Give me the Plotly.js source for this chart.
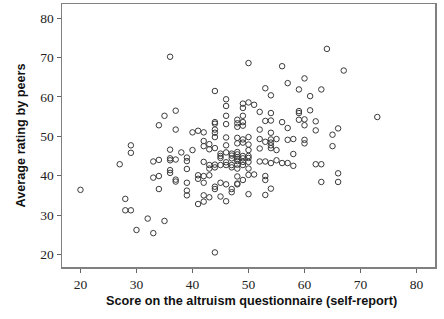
<!DOCTYPE html>
<html>
<head>
<meta charset="utf-8">
<script src="https://cdn.plot.ly/plotly-3.0.1.min.js"></script>
<style>html,body{margin:0;padding:0;background:#fff;}#chart{width:444px;height:319px;}</style>
</head>
<body>
<div id="chart"></div>
<script>
// Altruism self-report score (x) and average peer rating (y), grouped by x value
const scoreGroups = [20,27,28,29,30,32,33,34,35,36,37,38,39,40,41,42,43,44,45,46,47,48,49,50,51,52,53,54,55,56,57,58,59,60,61,62,63,64,65,66,67,73];
const peerRatings = [
  [36.4],
  [42.9],
  [34.1, 31.2],
  [31.2, 47.7, 45.8],
  [26.2],
  [29.1],
  [25.4, 39.5, 43.6],
  [52.8, 39.9, 36.6, 44.0],
  [55.2, 28.5],
  [70.2, 46.6, 44.4, 43.9, 41.4, 40.7],
  [56.5, 51.7, 44.1, 39.0, 38.5],
  [45.9],
  [44.6, 43.7, 41.7, 38.2, 36.2, 35.0],
  [51.0, 46.5],
  [51.4, 40.1, 39.2, 32.8],
  [51.0, 48.8, 47.5, 43.5, 39.9, 38.2, 35.0, 33.4],
  [48.0, 46.7, 42.7, 41.8, 40.1, 34.5],
  [61.5, 53.6, 53.2, 51.7, 50.9, 49.8, 47.0, 42.8, 42.1, 37.2, 36.6, 20.5],
  [45.6, 45.0, 44.5, 42.7, 38.2, 34.7],
  [59.4, 57.7, 55.2, 53.1, 49.7, 47.7, 45.9, 43.4, 42.7, 37.8, 33.5],
  [45.6, 45.1, 44.4, 42.7, 42.1, 36.6, 35.8],
  [54.2, 53.3, 52.4, 49.6, 48.2, 46.0, 45.4, 44.7, 44.2, 43.7, 42.8, 41.8, 39.8, 38.0, 37.8],
  [58.3, 57.2, 55.2, 53.6, 52.7, 49.2, 48.4, 45.0, 44.4, 43.5, 42.7, 38.9],
  [68.6, 58.6, 49.8, 47.9, 46.5, 45.0, 44.5, 43.5, 41.8, 40.2, 35.3],
  [58.0, 40.3],
  [56.2, 51.7, 49.3, 46.9, 43.6],
  [62.2, 53.9, 48.6, 43.6, 39.9, 38.9, 35.1],
  [60.4, 55.9, 54.0, 50.9, 49.2, 48.4, 47.7, 47.0, 43.2, 36.7],
  [49.3, 46.5, 43.9],
  [67.8, 53.6, 43.2],
  [63.5, 52.1, 49.1, 43.2],
  [49.3, 45.5, 42.5],
  [61.9, 56.4, 55.9, 54.2],
  [64.7, 54.3, 52.8, 49.1, 48.2],
  [60.2, 56.6],
  [53.8, 51.5, 42.9],
  [61.9, 42.9, 38.4],
  [72.2],
  [50.4, 47.5],
  [52.0, 40.6, 38.4],
  [66.7],
  [54.9]
];
const xTicks = [20,30,40,50,60,70,80];
const yTicks = [20,30,40,50,60,70,80];
const xTitle = 'Score on the altruism questionnaire (self-report)';
const yTitle = 'Average rating by peers';

const xs = [], ys = [];
scoreGroups.forEach((s, i) => peerRatings[i].forEach(v => { xs.push(s); ys.push(v); }));

const tickFont = {family: '"Liberation Serif", "Times New Roman", serif', size: 13.5, color: '#222'};
const titleFont = {family: '"Liberation Sans", Arial, sans-serif', size: 12.7, color: '#111', weight: 'bold'};

const data = [{
  type: 'scatter', mode: 'markers', x: xs, y: ys,
  marker: {symbol: 'circle-open', size: 5.5, color: '#3a3a3a', line: {width: 1, color: '#3a3a3a'}},
  hoverinfo: 'skip'
}];

const layout = {
  width: 444, height: 319,
  margin: {l: 62, r: 9, t: 4, b: 52},
  paper_bgcolor: '#fff', plot_bgcolor: '#fff',
  showlegend: false,
  xaxis: {
    range: [16.7, 83.3], tickvals: xTicks, ticktext: xTicks.map(String),
    showgrid: false, zeroline: false,
    showline: true, linecolor: '#808080', linewidth: 1.5, mirror: true,
    ticks: 'outside', ticklen: 4, tickcolor: '#666', tickwidth: 1,
    tickfont: tickFont
  },
  yaxis: {
    range: [16.8, 83.6], tickvals: yTicks, ticktext: yTicks.map(String),
    showgrid: false, zeroline: false,
    showline: true, linecolor: '#808080', linewidth: 1.5, mirror: true,
    ticks: 'outside', ticklen: 4, tickcolor: '#666', tickwidth: 1,
    tickfont: tickFont
  },
  annotations: [
    {text: xTitle, xref: 'paper', yref: 'paper', x: 0.509, y: -0.129,
     xanchor: 'center', yanchor: 'middle', showarrow: false, font: titleFont},
    {text: yTitle, xref: 'paper', yref: 'paper', x: -0.1126, y: 0.5, textangle: -90,
     xanchor: 'center', yanchor: 'middle', showarrow: false, font: titleFont}
  ]
};

Plotly.newPlot('chart', data, layout, {staticPlot: true, displayModeBar: false});
</script>
</body>
</html>
